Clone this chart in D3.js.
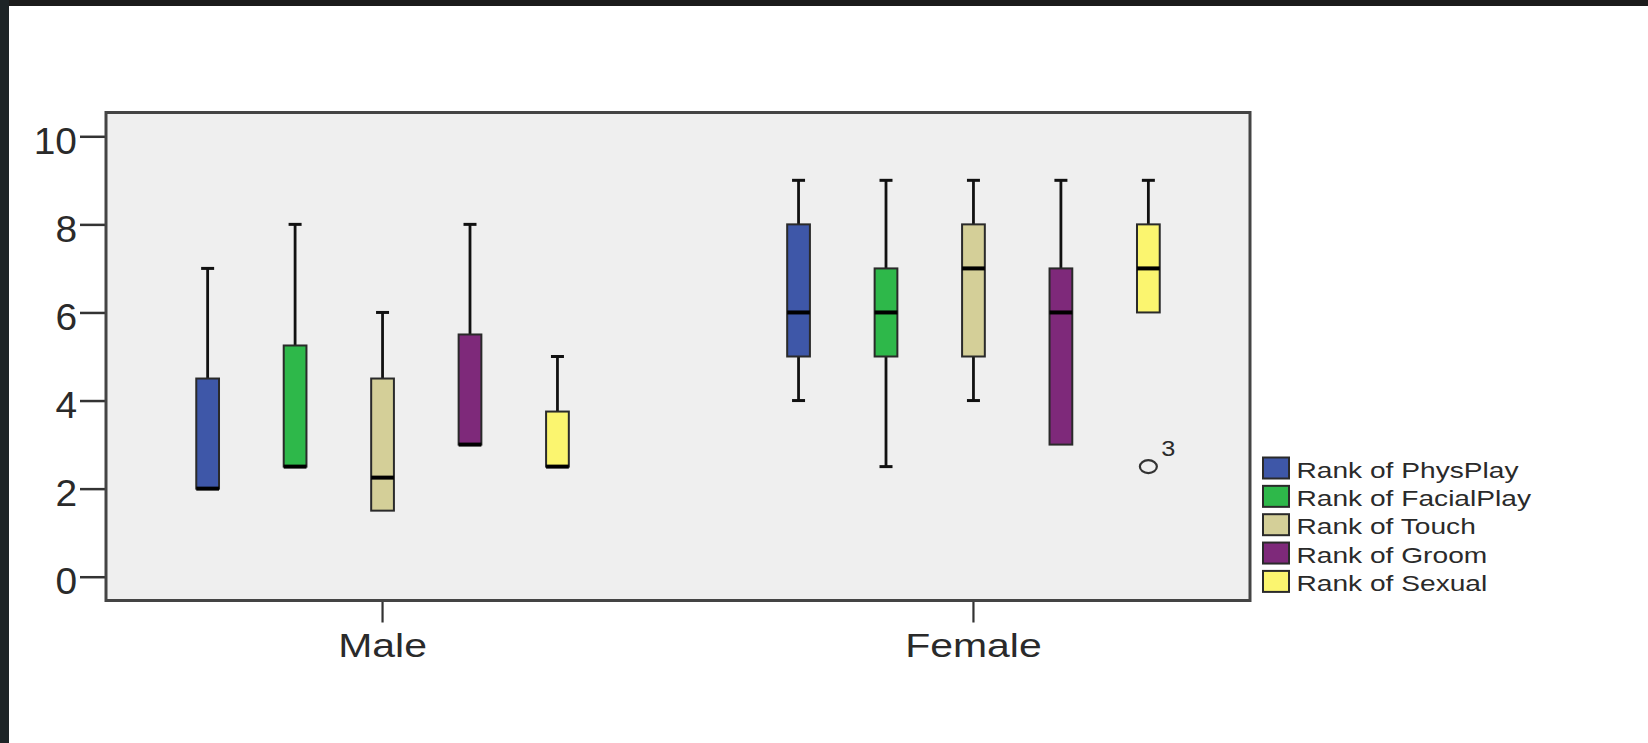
<!DOCTYPE html>
<html>
<head>
<meta charset="utf-8">
<script src="https://cdn.jsdelivr.net/npm/d3@7"></script>
<style>
  html, body { margin: 0; padding: 0; background: #ffffff; }
  svg { display: block; }
  text { font-family: "Liberation Sans", Arial, sans-serif; fill: #2a2a2a; }
</style>
</head>
<body>
<svg id="chart" width="1648" height="743"></svg>
<script>
// ---------- data ----------
const groups = ["Male", "Female"];
const series = ["Rank of PhysPlay", "Rank of FacialPlay", "Rank of Touch", "Rank of Groom", "Rank of Sexual"];
const colors = ["#3e57a8", "#2eb84a", "#d4cf98", "#7e297a", "#fbf56f"];

const maleMin    = [2,   2.5,  1.5,  3,   2.5];
const maleQ1     = [2,   2.5,  1.5,  3,   2.5];
const maleMedian = [2,   2.5,  2.25, 3,   2.5];
const maleQ3     = [4.5, 5.25, 4.5,  5.5, 3.75];
const maleMax    = [7,   8,    6,    8,   5];

const femaleMin    = [4, 2.5, 4, 3, 6];
const femaleQ1     = [5, 5,   5, 3, 6];
const femaleMedian = [6, 6,   7, 6, 7];
const femaleQ3     = [8, 7,   8, 7, 8];
const femaleMax    = [9, 9,   9, 9, 9];

const outlierGroup  = ["Female"];
const outlierSeries = ["Rank of Sexual"];
const outlierValue  = [2.5];
const outlierLabel  = ["3"];

const yTicks = [0, 2, 4, 6, 8, 10];

// ---------- build ----------
const stats = {
  Male:   { min: maleMin,   q1: maleQ1,   med: maleMedian,   q3: maleQ3,   max: maleMax },
  Female: { min: femaleMin, q1: femaleQ1, med: femaleMedian, q3: femaleQ3, max: femaleMax }
};
const boxes = [];
groups.forEach(g => series.forEach((s, i) => {
  const st = stats[g];
  boxes.push({ group: g, series: s, i, min: st.min[i], q1: st.q1[i], med: st.med[i], q3: st.q3[i], max: st.max[i] });
}));

const svg = d3.select("#chart");
const W = 1648, H = 743;

// window frame
svg.append("rect").attr("x", 0).attr("y", 0).attr("width", W).attr("height", 6).attr("fill", "#1b1b1b");
svg.append("rect").attr("x", 0).attr("y", 0).attr("width", 9).attr("height", H).attr("fill", "#1d2426");

const plot = { left: 106, right: 1250, top: 112.5, bottom: 600.5 };

const y = d3.scaleLinear().domain([-0.54, 10.54]).range([plot.bottom, plot.top]);
const x0 = d3.scaleBand().domain(groups).range([plot.left, plot.right]).paddingInner(0.26).paddingOuter(0.098);
const x1 = d3.scaleBand().domain(series).range([0, x0.bandwidth()]).paddingInner(0.74).paddingOuter(0.37);
const color = d3.scaleOrdinal().domain(series).range(colors);

// plot background
svg.append("rect")
  .attr("x", plot.left).attr("y", plot.top)
  .attr("width", plot.right - plot.left).attr("height", plot.bottom - plot.top)
  .attr("fill", "#efefef");

function stretchText(sel, k) {
  sel.each(function () {
    const len = this.getComputedTextLength();
    d3.select(this).attr("textLength", len * k).attr("lengthAdjust", "spacingAndGlyphs");
  });
}

// y axis
const yAxis = svg.append("g")
  .attr("transform", `translate(${plot.left},0)`)
  .call(d3.axisLeft(y).tickValues(yTicks).tickSize(26).tickPadding(3).tickFormat(d3.format("d")));
yAxis.select(".domain").remove();
yAxis.selectAll(".tick line").attr("stroke", "#333").attr("stroke-width", 2.5);
yAxis.selectAll(".tick text")
  .attr("font-size", 36).attr("dy", "0.47em")
  .style("font-family", "'Liberation Sans', Arial, sans-serif").style("fill", "#2a2a2a")
  .call(stretchText, 1.08);

// x axis
const xAxis = svg.append("g")
  .attr("transform", `translate(0,${plot.bottom})`)
  .call(d3.axisBottom(x0).tickSize(22).tickPadding(0));
xAxis.select(".domain").remove();
xAxis.selectAll(".tick line").attr("stroke", "#333").attr("stroke-width", 2.2);
xAxis.selectAll(".tick text")
  .attr("y", 56).attr("dy", 0)
  .attr("font-size", 33)
  .style("font-family", "'Liberation Sans', Arial, sans-serif").style("fill", "#2a2a2a")
  .call(stretchText, 1.24);

// boxes
const bw = x1.bandwidth();
const capW = 13;
const bg = svg.append("g");
const b = bg.selectAll("g.box").data(boxes).join("g").attr("class", "box")
  .attr("transform", d => `translate(${x0(d.group) + x1(d.series) + bw / 2},0)`);

// upper whisker
b.filter(d => d.max > d.q3).append("line")
  .attr("x1", 0).attr("x2", 0).attr("y1", d => y(d.q3)).attr("y2", d => y(d.max))
  .attr("stroke", "#111").attr("stroke-width", 2.8);
b.filter(d => d.max > d.q3).append("line")
  .attr("x1", -capW / 2).attr("x2", capW / 2).attr("y1", d => y(d.max)).attr("y2", d => y(d.max))
  .attr("stroke", "#111").attr("stroke-width", 3);
// lower whisker
b.filter(d => d.min < d.q1).append("line")
  .attr("x1", 0).attr("x2", 0).attr("y1", d => y(d.q1)).attr("y2", d => y(d.min))
  .attr("stroke", "#111").attr("stroke-width", 2.8);
b.filter(d => d.min < d.q1).append("line")
  .attr("x1", -capW / 2).attr("x2", capW / 2).attr("y1", d => y(d.min)).attr("y2", d => y(d.min))
  .attr("stroke", "#111").attr("stroke-width", 3);
// box
b.append("rect")
  .attr("x", -bw / 2).attr("width", bw)
  .attr("y", d => y(d.q3)).attr("height", d => y(d.q1) - y(d.q3))
  .attr("fill", d => color(d.series)).attr("stroke", "#2a2a2a").attr("stroke-width", 2);
// median
b.append("line")
  .attr("x1", -bw / 2).attr("x2", bw / 2)
  .attr("y1", d => y(d.med)).attr("y2", d => y(d.med))
  .attr("stroke", "#000").attr("stroke-width", 4);

// outliers
outlierValue.forEach((v, k) => {
  const cx = x0(outlierGroup[k]) + x1(outlierSeries[k]) + bw / 2;
  const cy = y(v);
  svg.append("ellipse").attr("cx", cx).attr("cy", cy).attr("rx", 8.5).attr("ry", 6.5)
    .attr("fill", "none").attr("stroke", "#333").attr("stroke-width", 2.2);
  svg.append("text").attr("x", cx + 13).attr("y", cy - 10.5)
    .attr("font-size", 22).text(outlierLabel[k]).call(stretchText, 1.15);
});

// plot frame
svg.append("rect")
  .attr("x", plot.left).attr("y", plot.top)
  .attr("width", plot.right - plot.left).attr("height", plot.bottom - plot.top)
  .attr("fill", "none").attr("stroke", "#444").attr("stroke-width", 3);

// legend
const legendX = 1263, legendY = 457.5, rowH = 28.35;
const lg = svg.append("g").selectAll("g").data(series).join("g")
  .attr("transform", (d, i) => `translate(${legendX},${legendY + i * rowH})`);
lg.append("rect").attr("x", 0).attr("y", 0).attr("width", 26).attr("height", 21)
  .attr("fill", d => color(d)).attr("stroke", "#2a2a2a").attr("stroke-width", 2);
lg.append("text").attr("x", 33.5).attr("y", 20.3).attr("font-size", 22.5).text(d => d)
  .call(stretchText, 1.25);
</script>
</body>
</html>
